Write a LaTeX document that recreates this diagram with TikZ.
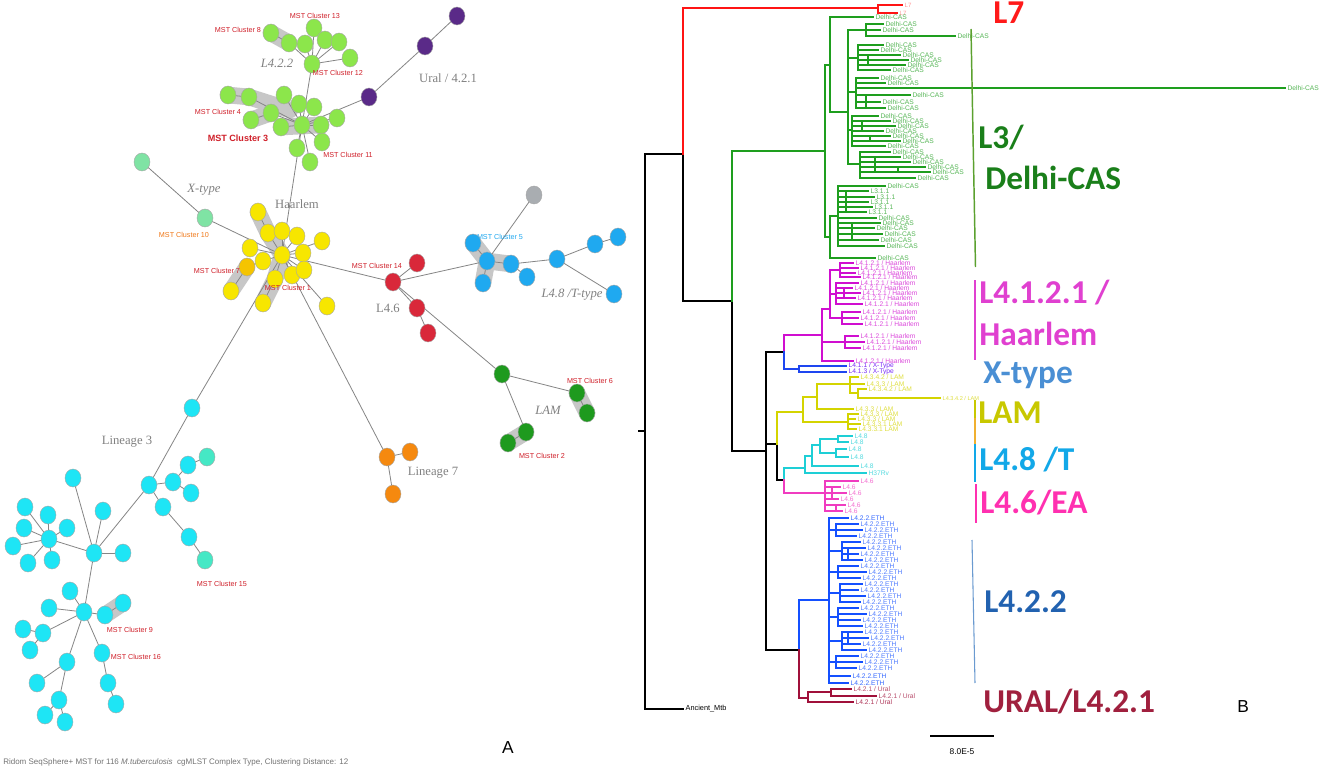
\documentclass[tikz,border=0pt]{standalone}
\usepackage{fontspec}
\setmainfont{Liberation Sans}
\newfontfamily\serifg{Liberation Serif}
\newfontfamily\carl{Carlito}
\usetikzlibrary{shapes.geometric}
\pgfdeclarelayer{bg}
\pgfsetlayers{bg,main}
% MST colours
\definecolor{limeg}{HTML}{8CE64B}
\definecolor{purp}{HTML}{5A2A88}
\definecolor{xgreen}{HTML}{7FE3A4}
\definecolor{yel}{HTML}{F7E600}
\definecolor{yelor}{HTML}{F5C400}
\definecolor{mred}{HTML}{D9283A}
\definecolor{mblue}{HTML}{1FA9F0}
\definecolor{mgray}{HTML}{A9ADB1}
\definecolor{lamg}{HTML}{1E9A1E}
\definecolor{oran}{HTML}{F5890F}
\definecolor{cyanc}{HTML}{1EE5F5}
\definecolor{tealc}{HTML}{45E8C5}
\definecolor{labred}{HTML}{D0202A}
\definecolor{laborange}{HTML}{F07818}
\definecolor{labblue}{HTML}{20A8F0}
% tree colours
\definecolor{trgreen}{HTML}{1E9E1E}
\definecolor{trred}{HTML}{FF1414}
\definecolor{trmag}{HTML}{D00ED0}
\definecolor{trxblue}{HTML}{1E46F0}
\definecolor{tryel}{HTML}{D4D400}
\definecolor{trcyan}{HTML}{1ECFD6}
\definecolor{trpink}{HTML}{F03CC0}
\definecolor{trblue}{HTML}{1450FF}
\definecolor{trural}{HTML}{A0103A}
% big label colours
\definecolor{bLseven}{HTML}{FF1A1A}
\definecolor{bLthree}{HTML}{1A7F1A}
\definecolor{bHa}{HTML}{E040D0}
\definecolor{bX}{HTML}{4A8FD4}
\definecolor{bLAM}{HTML}{C8C800}
\definecolor{bT}{HTML}{12A8E8}
\definecolor{bEA}{HTML}{FF30B0}
\definecolor{bLft}{HTML}{2262B0}
\definecolor{bUR}{HTML}{A0203E}
\definecolor{sgreen}{HTML}{5BA12F}
\definecolor{sorange}{HTML}{F0B030}
\definecolor{sblue}{HTML}{6A9AD0}

\tikzset{
  mst/.style={ellipse, draw=black!35, line width=0.3pt, minimum width=12pt, minimum height=13.5pt, inner sep=0pt},
  lgc/.style={mst, fill=limeg},
  puc/.style={mst, fill=purp},
  xgc/.style={mst, fill=xgreen},
  yec/.style={mst, fill=yel},
  yoc/.style={mst, fill=yelor},
  rec/.style={mst, fill=mred},
  blc/.style={mst, fill=mblue},
  grc/.style={mst, fill=mgray},
  lac/.style={mst, fill=lamg},
  orc/.style={mst, fill=oran},
  cyc/.style={mst, fill=cyanc},
  tec/.style={mst, fill=tealc},
  edge/.style={draw=black!48, line width=0.6pt},
  band/.style={draw=black!22, line width=12.5pt, line cap=round},
  mstlab/.style={font=\fontsize{5.4}{6}\selectfont, text=labred, inner sep=0pt},
  grplab/.style={font=\serifg\fontsize{9.5}{10}\selectfont, text=black!50, inner sep=0pt},
  grpital/.style={font=\serifg\itshape\fontsize{9.5}{10}\selectfont, text=black!50, inner sep=0pt},
  tr/.style={line width=2pt, line cap=rect},
  leaflab/.style={font=\fontsize{5}{5}\selectfont, anchor=west, inner sep=1pt},
  big/.style={font=\carl\bfseries\fontsize{25}{27}\selectfont, anchor=base west, inner sep=0pt},
  sideline/.style={line width=1.1pt}
}

% clade: #1 colour, #2 node x, #3 top y, #4 bottom y, #5 name prefix, #6 list y/tip/label
\newcommand{\tgrp}[6]{%
  \draw[tr,draw=#1] (#2,#3) -- (#2,#4);
  \foreach \yy/\tt/\ll [count=\ii] in {#6} {%
    \draw[tr,draw=#1] (#2,\yy) -- (\tt,\yy) node[leaflab,text=#1!75!white,name=#5\ii] {\ll};}%
}
\newcommand{\lbDC}{Delhi-CAS}
\newcommand{\lbLT}{L3.1.1}
\newcommand{\lbHL}{L4.1.2.1 / Haarlem}
\newcommand{\lbLMa}{L4.3.4.2 / LAM}
\newcommand{\lbLMb}{L4.3.3 / LAM}
\newcommand{\lbLMc}{L4.3.3.1 LAM}
\newcommand{\lbLE}{L4.8}
\newcommand{\lbLS}{L4.6}
\newcommand{\lbETH}{L4.2.2.ETH}
\newcommand{\lbUR}{L4.2.1 / Ural}

\begin{document}
\begin{tikzpicture}[x=0.75pt,y=-0.75pt]
\useasboundingbox (0,0) rectangle (1325,770);
\begin{pgfonlayer}{bg}
\fill[white] (0,0) rectangle (1325,770);
\end{pgfonlayer}

%================ PANEL A : MST =================
% L4.2.2 top cluster
\node[lgc] (g1) at (271,33) {};
\node[lgc] (g2) at (289,43) {};
\node[lgc] (g3) at (314,28) {};
\node[lgc] (g4) at (305,44) {};
\node[lgc] (g5) at (325,40) {};
\node[lgc] (g6) at (339,42) {};
\node[lgc] (g7) at (350,58) {};
\node[lgc] (g8) at (312,64) {};
% lower green cluster
\node[lgc] (k1) at (228,95) {};
\node[lgc] (k2) at (249,97) {};
\node[lgc] (k3) at (271,113) {};
\node[lgc] (k4) at (251,120) {};
\node[lgc] (k5) at (284,95) {};
\node[lgc] (k6) at (299,104) {};
\node[lgc] (k7) at (314,107) {};
\node[lgc] (k8) at (337,118) {};
\node[lgc] (k9) at (281,127) {};
\node[lgc] (k10) at (302,125) {};
\node[lgc] (k11) at (321,125) {};
\node[lgc] (k12) at (322,142) {};
\node[lgc] (k13) at (297,148) {};
\node[lgc] (k14) at (310,162) {};
% Ural purple
\node[puc] (p1) at (457,16) {};
\node[puc] (p2) at (425,46) {};
\node[puc] (p3) at (369,97) {};
% X-type
\node[xgc] (x1) at (142,162) {};
\node[xgc] (x2) at (205,218) {};
% Haarlem yellow
\node[yec] (y1) at (258,212) {};
\node[yec] (y2) at (268,233) {};
\node[yec] (y3) at (282,231) {};
\node[yec] (y4) at (297,236) {};
\node[yec] (y5) at (250,248) {};
\node[yec] (y6) at (303,253) {};
\node[yec] (y7) at (322,241) {};
\node[yec] (y8) at (263,261) {};
\node[yoc] (y9) at (247,267) {};
\node[yec] (y12) at (275,279) {};
\node[yec] (y10) at (292,275) {};
\node[yec] (y11) at (304,270) {};
\node[yec] (y13) at (231,291) {};
\node[yec] (y14) at (263,303) {};
\node[yec] (y15) at (327,306) {};
\node[yec] (y0) at (282,255) {};
% L4.6 red
\node[rec] (r0) at (393,282) {};
\node[rec] (r1) at (417,263) {};
\node[rec] (r2) at (417,308) {};
\node[rec] (r3) at (428,333) {};
% L4.8 blue
\node[blc] (b0) at (473,243) {};
\node[blc] (b1) at (487,261) {};
\node[blc] (b2) at (511,264) {};
\node[blc] (b3) at (527,277) {};
\node[blc] (b4) at (483,283) {};
\node[blc] (b5) at (557,259) {};
\node[blc] (b6) at (595,244) {};
\node[blc] (b7) at (618,237) {};
\node[blc] (b8) at (614,294) {};
\node[grc] (gr) at (534,195) {};
% LAM green
\node[lac] (l1) at (502,374) {};
\node[lac] (l2) at (577,393) {};
\node[lac] (l3) at (587,413) {};
\node[lac] (l4) at (526,432) {};
\node[lac] (l5) at (508,443) {};
% Lineage 7 orange
\node[orc] (o1) at (387,457) {};
\node[orc] (o2) at (410,452) {};
\node[orc] (o3) at (393,494) {};
% Lineage 3 cyan
\node[cyc] (c1) at (192,408) {};
\node[cyc] (c2) at (149,485) {};
\node[cyc] (c3) at (173,482) {};
\node[cyc] (c4) at (188,465) {};
\node[tec] (c5) at (207,457) {};
\node[cyc] (c6) at (191,493) {};
\node[cyc] (c7) at (163,507) {};
\node[cyc] (c8) at (189,537) {};
\node[tec] (c9) at (205,560) {};
\node[cyc] (d0) at (94,553) {};
\node[cyc] (d1) at (73,478) {};
\node[cyc] (d2) at (103,511) {};
\node[cyc] (d3) at (123,553) {};
\node[cyc] (e0) at (49,539) {};
\node[cyc] (e1) at (25,507) {};
\node[cyc] (e2) at (48,515) {};
\node[cyc] (e3) at (24,528) {};
\node[cyc] (e4) at (67,528) {};
\node[cyc] (e5) at (13,546) {};
\node[cyc] (e6) at (52,560) {};
\node[cyc] (e7) at (28,563) {};
\node[cyc] (f0) at (84,612) {};
\node[cyc] (f1) at (70,591) {};
\node[cyc] (f2) at (49,608) {};
\node[cyc] (f3) at (105,615) {};
\node[cyc] (f4) at (123,603) {};
\node[cyc] (f5) at (43,633) {};
\node[cyc] (f6) at (67,662) {};
\node[cyc] (f7) at (102,653) {};
\node[cyc] (f8) at (23,629) {};
\node[cyc] (f9) at (30,650) {};
\node[cyc] (f10) at (37,683) {};
\node[cyc] (f11) at (59,700) {};
\node[cyc] (f12) at (45,715) {};
\node[cyc] (f13) at (65,722) {};
\node[cyc] (f14) at (108,683) {};
\node[cyc] (f15) at (116,704) {};

\begin{pgfonlayer}{bg}
  % cluster shading
  \draw[band] (g1.center) -- (g2.center);
  \draw[band] (k1.center) -- (k2.center) -- (290,110);
  \draw[band] (k4.center) -- (k3.center);
  \draw[band] (k9.center) -- (k11.center);
  \draw[band] (y1.center) -- (y2.center) -- (y0.center);
  \draw[band] (y0.center) -- (y12.center) -- (y14.center);
  \draw[band] (y9.center) -- (y13.center);
  \draw[band] (b0.center) -- (b1.center) -- (b2.center);
  \draw[band] (b1.center) -- (b4.center);
  \draw[band] (l2.center) -- (l3.center);
  \draw[band] (l4.center) -- (l5.center);
  \draw[band] (f3.center) -- (f4.center);
  % edges
  \foreach \a/\b in {g8/g2, g2/g1, g8/g3, g8/g4, g8/g5, g8/g6, g8/g7, g8/k10,
     k10/k2, k2/k1, k10/k3, k3/k4, k10/k5, k10/k6, k10/k7, k10/k8, k10/k9, k10/k11, k10/k12, k10/k13, k10/k14,
     p1/p2, p2/p3, p3/k10, k10/y0,
     x1/x2, x2/y0,
     y0/y2, y2/y1, y0/y3, y0/y4, y0/y5, y0/y6, y0/y7, y0/y8, y8/y9, y9/y13, y0/y10, y0/y11, y0/y12, y12/y14, y0/y15,
     y0/r0, r0/r1, r0/r2, r2/r3, r0/b1, r0/l1,
     b1/b0, b1/b2, b1/b4, b1/gr, b2/b3, b2/b5, b5/b6, b6/b7, b5/b8,
     l1/l2, l2/l3, l1/l4, l4/l5,
     y0/o1, o1/o2, o1/o3,
     y0/c1, c1/c2, c2/c3, c3/c4, c4/c5, c3/c6, c2/c7, c7/c8, c8/c9, c2/d0,
     d0/d1, d0/d2, d0/d3, d0/e0, d0/f0,
     e0/e1, e0/e2, e0/e3, e0/e4, e0/e5, e0/e6, e0/e7,
     f0/f1, f0/f2, f0/f3, f3/f4, f0/f5, f5/f8, f5/f9, f0/f6, f6/f10, f6/f11, f11/f12, f11/f13, f0/f7, f7/f14, f14/f15}
     {\draw[edge] (\a.center) -- (\b.center);}
\end{pgfonlayer}

% MST labels
\node[mstlab] (mc8) at (238,30) {MST Cluster 8};
\node[mstlab] (mc13) at (315,16) {MST Cluster 13};
\node[mstlab] (mc12) at (338,73) {MST Cluster 12};
\node[mstlab] (mc4) at (218,112) {MST Cluster 4};
\node[mstlab, font=\bfseries\fontsize{6.8}{7}\selectfont] (mc3) at (238,138) {MST Cluster 3};
\node[mstlab] (mc11) at (348,155) {MST Cluster 11};
\node[mstlab, text=laborange] (mc10) at (184,235) {MST Cluster 10};
\node[mstlab] (mc7) at (217,271) {MST Cluster 7};
\node[mstlab] (mc1) at (288,288) {MST Cluster 1};
\node[mstlab] (mc14) at (377,266) {MST Cluster 14};
\node[mstlab, text=labblue] (mc5) at (500,237) {MST Cluster 5};
\node[mstlab] (mc6) at (590,381) {MST Cluster 6};
\node[mstlab] (mc2) at (542,456) {MST Cluster 2};
\node[mstlab] (mc15) at (222,584) {MST Cluster 15};
\node[mstlab] (mc9) at (130,630) {MST Cluster 9};
\node[mstlab] (mc16) at (136,657) {MST Cluster 16};
% group labels
\node[grpital] (gl422) at (277,63) {L4.2.2};
\node[grplab] (glural) at (448,78) {Ural / 4.2.1};
\node[grpital] (glx) at (204,190) {X-type};
\node[grplab] (glha) at (297,204) {Haarlem};
\node[grplab] (gl46) at (388,308) {L4.6};
\node[grpital] (gl48) at (572,295) {L4.8 /T-type};
\node[grpital] (gllam) at (548,410) {LAM};
\node[grplab] (gll7) at (433,473) {Lineage 7};
\node[grplab] (gll3) at (127,442) {Lineage 3};
\node[anchor=west, inner sep=0pt, font=\fontsize{6}{7}\selectfont, text=black!55] (cap) at (3,762)
  {Ridom SeqSphere+ MST for 116 \textit{M.tuberculosis}\ \ cgMLST Complex Type, Clustering Distance: 12};
\node[inner sep=0pt, font=\fontsize{13}{14}\selectfont] (labA) at (508,748) {A};

%================ PANEL B : tree =================
% backbone
\draw[tr] (639,431) -- (645,431);
\draw[tr] (645,154) -- (645,709) -- (683,709) node[leaflab, font=\fontsize{5.5}{6}\selectfont, text=black] (anc) {Ancient\_Mtb};
\draw[tr] (645,154) -- (683,154) -- (683,301) -- (732,301) -- (732,451) -- (766,451);
\draw[tr] (766,352) -- (766,650) -- (799,650);
\draw[tr] (766,352) -- (784,352);
\draw[tr] (766,444) -- (777,444) -- (777,480) -- (784,480);
% L7
\draw[tr,draw=trred] (683,154) -- (683,8) -- (878,8);
\draw[tr,draw=trred] (878,5) -- (878,13);
\draw[tr,draw=trred] (878,5) -- (902,5) node[leaflab,text=trred!45!white,font=\fontsize{4.6}{5}\selectfont] (l7a) {L7};
\draw[tr,draw=trred] (878,13) -- (897,13) node[leaflab,text=trred!45!white,font=\fontsize{4.6}{5}\selectfont] (l7b) {L7};
% L3 / Delhi-CAS
\draw[tr,draw=trgreen] (732,301) -- (732,151) -- (825,151);
\draw[tr,draw=trgreen] (825,65) -- (825,237);
\draw[tr,draw=trgreen] (825,65) -- (830,65);
\draw[tr,draw=trgreen] (830,17) -- (830,112);
\draw[tr,draw=trgreen] (830,17) -- (873,17) node[leaflab,text=trgreen!75!white] (gtop) {\lbDC};
\draw[tr,draw=trgreen] (830,112) -- (848,112);
\draw[tr,draw=trgreen] (848,30) -- (848,164);
\draw[tr,draw=trgreen] (848,30) -- (866,30);
\tgrp{trgreen}{866}{24}{36}{ga}{24/883/\lbDC, 30/880/\lbDC, 36/955/\lbDC}
\draw[tr,draw=trgreen] (848,58) -- (858,58);
\tgrp{trgreen}{858}{45}{70}{gb}{45/883/\lbDC, 50/878/\lbDC, 55/900/\lbDC, 60/908/\lbDC, 65/905/\lbDC, 70/890/\lbDC}
\draw[tr,draw=trgreen] (868,55) -- (868,65);
\draw[tr,draw=trgreen] (848,92) -- (856,92);
\tgrp{trgreen}{856}{78}{108}{gc}{78/878/\lbDC, 83/885/\lbDC, 88/1285/\lbDC, 95/910/\lbDC, 102/880/\lbDC, 108/885/\lbDC}
\draw[tr,draw=trgreen] (866,95) -- (866,108);
\draw[tr,draw=trgreen] (848,130) -- (852,130);
\tgrp{trgreen}{852}{116}{146}{gd}{116/878/\lbDC, 121/890/\lbDC, 126/895/\lbDC, 131/883/\lbDC, 136/890/\lbDC, 141/900/\lbDC, 146/885/\lbDC}
\draw[tr,draw=trgreen] (862,121) -- (862,131);
\draw[tr,draw=trgreen] (870,136) -- (870,141);
\draw[tr,draw=trgreen] (848,164) -- (860,164);
\tgrp{trgreen}{860}{152}{178}{ge}{152/890/\lbDC, 157/900/\lbDC, 162/910/\lbDC, 167/925/\lbDC, 172/930/\lbDC, 178/915/\lbDC}
\draw[tr,draw=trgreen] (875,157) -- (875,172);
\draw[tr,draw=trgreen] (898,167) -- (898,172);
\draw[tr,draw=trgreen] (825,237) -- (830,237);
\draw[tr,draw=trgreen] (830,216) -- (830,258);
\draw[tr,draw=trgreen] (830,216) -- (838,216);
\tgrp{trgreen}{838}{186}{246}{gf}{186/885/\lbDC, 191/868/\lbLT, 197/874/\lbLT, 202/868/\lbLT, 207/872/\lbLT, 212/866/\lbLT, 218/876/\lbDC, 223/880/\lbDC, 228/874/\lbDC, 234/882/\lbDC, 240/878/\lbDC, 246/884/\lbDC}
\draw[tr,draw=trgreen] (846,191) -- (846,212);
\draw[tr,draw=trgreen] (852,223) -- (852,240);
\draw[tr,draw=trgreen] (830,258) -- (875,258) node[leaflab,text=trgreen!75!white] (gbot) {\lbDC};
% L4.1.2.1 / Haarlem
\draw[tr,draw=trmag] (784,352) -- (784,335) -- (822,335);
\draw[tr,draw=trmag] (822,309) -- (822,361);
\draw[tr,draw=trmag] (822,309) -- (830,309);
\draw[tr,draw=trmag] (830,270) -- (830,318);
\draw[tr,draw=trmag] (830,270) -- (840,270);
\tgrp{trmag}{840}{263}{277}{ha}{263/853/\lbHL, 268/858/\lbHL, 273/855/\lbHL, 277/860/\lbHL}
\draw[tr,draw=trmag] (830,294) -- (836,294);
\tgrp{trmag}{836}{283}{304}{hb}{283/858/\lbHL, 288/852/\lbHL, 293/860/\lbHL, 298/855/\lbHL, 304/862/\lbHL}
\draw[tr,draw=trmag] (844,288) -- (844,298);
\draw[tr,draw=trmag] (830,318) -- (842,318);
\tgrp{trmag}{842}{312}{324}{hc}{312/860/\lbHL, 318/858/\lbHL, 324/862/\lbHL}
\draw[tr,draw=trmag] (822,342) -- (845,342);
\tgrp{trmag}{845}{336}{348}{hd}{336/858/\lbHL, 342/864/\lbHL, 348/860/\lbHL}
\draw[tr,draw=trmag] (822,361) -- (853,361) node[leaflab,text=trmag!75!white] (hlast) {\lbHL};
% X-type
\draw[tr,draw=trxblue] (784,352) -- (784,369) -- (799,369);
\draw[tr,draw=trxblue] (799,366) -- (799,372);
\draw[tr,draw=trxblue] (799,366) -- (846,366) node[leaflab,text=trxblue!60!magenta] (xt1) {L4.1.1 / X-Type};
\draw[tr,draw=trxblue] (799,372) -- (846,372) node[leaflab,text=trxblue!60!magenta] (xt2) {L4.1.3 / X-Type};
% LAM
\draw[tr,draw=tryel] (777,444) -- (777,412) -- (803,412);
\draw[tr,draw=tryel] (803,397) -- (803,422);
\draw[tr,draw=tryel] (803,397) -- (817,397);
\draw[tr,draw=tryel] (817,384) -- (817,409);
\draw[tr,draw=tryel] (817,384) -- (850,384);
\tgrp{tryel}{850}{377}{393}{la}{377/858/\lbLMa, 384/864/\lbLMb}
\draw[tr,draw=tryel] (850,393) -- (858,393);
\draw[tr,draw=tryel] (858,389) -- (858,398);
\draw[tr,draw=tryel] (858,389) -- (866,389) node[leaflab,text=tryel!75!white] (lb1) {\lbLMa};
\draw[tr,draw=tryel] (858,398) -- (940,398) node[leaflab,text=tryel!75!white,font=\fontsize{4.2}{5}\selectfont] (lb2) {\lbLMa};
\draw[tr,draw=tryel] (817,409) -- (853,409) node[leaflab,text=tryel!75!white] (lmid) {\lbLMb};
\draw[tr,draw=tryel] (803,422) -- (848,422);
\tgrp{tryel}{848}{414}{429}{lc}{414/858/\lbLMb, 419/855/\lbLMb, 424/860/\lbLMc, 429/856/\lbLMc}
% L4.8
\draw[tr,draw=trcyan] (784,480) -- (784,468) -- (805,468);
\draw[tr,draw=trcyan] (805,456) -- (805,473);
\draw[tr,draw=trcyan] (805,473) -- (866,473) node[leaflab,text=trcyan!75!white] (h37) {H37Rv};
\draw[tr,draw=trcyan] (805,456) -- (812,456);
\draw[tr,draw=trcyan] (812,445) -- (812,466);
\draw[tr,draw=trcyan] (812,466) -- (858,466) node[leaflab,text=trcyan!75!white] (cy1) {\lbLE};
\draw[tr,draw=trcyan] (812,445) -- (820,445);
\draw[tr,draw=trcyan] (820,439) -- (820,453);
\draw[tr,draw=trcyan] (820,439) -- (838,439);
\tgrp{trcyan}{838}{436}{442}{ca}{436/852/\lbLE, 442/848/\lbLE}
\draw[tr,draw=trcyan] (820,453) -- (836,453);
\tgrp{trcyan}{836}{449}{457}{cb}{449/846/\lbLE, 457/848/\lbLE}
% L4.6
\draw[tr,draw=trpink] (784,480) -- (784,493) -- (825,493);
\tgrp{trpink}{825}{481}{511}{pa}{481/858/\lbLS, 487/840/\lbLS, 493/846/\lbLS, 499/838/\lbLS, 505/845/\lbLS, 511/842/\lbLS}
\draw[tr,draw=trpink] (832,487) -- (832,499);
\draw[tr,draw=trpink] (836,505) -- (836,511);
% L4.2.2
\draw[tr,draw=trblue] (799,650) -- (799,600) -- (829,600);
\draw[tr,draw=trblue] (829,518) -- (829,683);
\draw[tr,draw=trblue] (829,518) -- (848,518) node[leaflab,text=trblue!85!white] (eth0) {\lbETH};
\draw[tr,draw=trblue] (829,530) -- (836,530);
\tgrp{trblue}{836}{524}{536}{ea}{524/858/\lbETH, 530/862/\lbETH, 536/856/\lbETH}
\draw[tr,draw=trblue] (829,551) -- (842,551);
\tgrp{trblue}{842}{542}{560}{eb}{542/860/\lbETH, 548/865/\lbETH, 554/858/\lbETH, 560/862/\lbETH}
\draw[tr,draw=trblue] (829,572) -- (838,572);
\tgrp{trblue}{838}{566}{578}{ec}{566/858/\lbETH, 572/866/\lbETH, 578/860/\lbETH}
\draw[tr,draw=trblue] (829,593) -- (840,593);
\tgrp{trblue}{840}{584}{602}{ed}{584/862/\lbETH, 590/858/\lbETH, 596/865/\lbETH, 602/860/\lbETH}
\draw[tr,draw=trblue] (829,617) -- (838,617);
\tgrp{trblue}{838}{608}{626}{ee}{608/858/\lbETH, 614/866/\lbETH, 620/860/\lbETH, 626/862/\lbETH}
\draw[tr,draw=trblue] (829,641) -- (842,641);
\tgrp{trblue}{842}{632}{650}{ef}{632/862/\lbETH, 638/868/\lbETH, 644/860/\lbETH, 650/866/\lbETH}
\draw[tr,draw=trblue] (829,662) -- (836,662);
\tgrp{trblue}{836}{656}{668}{eg}{656/858/\lbETH, 662/862/\lbETH, 668/856/\lbETH}
\draw[tr,draw=trblue] (829,676) -- (850,676) node[leaflab,text=trblue!85!white] (eth1) {\lbETH};
\draw[tr,draw=trblue] (829,683) -- (848,683) node[leaflab,text=trblue!85!white] (eth2) {\lbETH};
\draw[tr,draw=trblue] (848,548) -- (848,560);
\draw[tr,draw=trblue] (848,632) -- (848,644);
% URAL
\draw[tr,draw=trural] (799,650) -- (799,698) -- (808,698);
\draw[tr,draw=trural] (808,692) -- (808,702);
\draw[tr,draw=trural] (808,692) -- (831,692);
\tgrp{trural}{831}{689}{696}{ua}{689/851/\lbUR, 696/876/\lbUR}
\draw[tr,draw=trural] (808,702) -- (853,702) node[leaflab,text=trural!85!white] (ur3) {\lbUR};

% side bars
\draw[sideline, draw=sgreen] (971,29) -- (975.5,267);
\draw[sideline, draw=bHa] (975,280) -- (975,360);
\draw[sideline, draw=bLAM] (975,400) -- (975,418);
\draw[sideline, draw=sorange] (975,418) -- (975,444);
\draw[sideline, draw=bT] (975,444) -- (975,482);
\draw[sideline, draw=bEA] (976,484) -- (976,523);
\draw[sideline, draw=sblue, line width=0.8pt] (972,540) -- (975,683);

% big labels
\node[big, text=bLseven] (BL7) at (993,24) {L7};
\node[big, text=bLthree] (BL3a) at (978,149) {L3/};
\node[big, text=bLthree] (BL3b) at (985,190) {Delhi-CAS};
\node[big, text=bHa] (BHa1) at (979,303) {L4.1.2.1 /};
\node[big, text=bHa] (BHa2) at (979,345) {Haarlem};
\node[big, text=bX] (BX) at (983,383) {X-type};
\node[big, text=bLAM] (BLAM) at (978,423) {LAM};
\node[big, text=bT] (BT) at (979,470) {L4.8 /T};
\node[big, text=bEA] (BEA) at (980,513) {L4.6/EA};
\node[big, text=bLft] (BL42) at (984,612) {L4.2.2};
\node[big, text=bUR] (BUR) at (983,712) {URAL/L4.2.1};
\node[inner sep=0pt, font=\fontsize{13}{14}\selectfont, anchor=base west] (labB) at (1237,712) {B};

% scale bar
\coordinate (sb1) at (930,736);
\coordinate (sb2) at (994,736);
\draw[line width=2pt] (sb1) -- (sb2);
\node[inner sep=0pt, font=\fontsize{6.3}{7}\selectfont] (sbl) at (962,752) {8.0E-5};
\end{tikzpicture}
\end{document}
